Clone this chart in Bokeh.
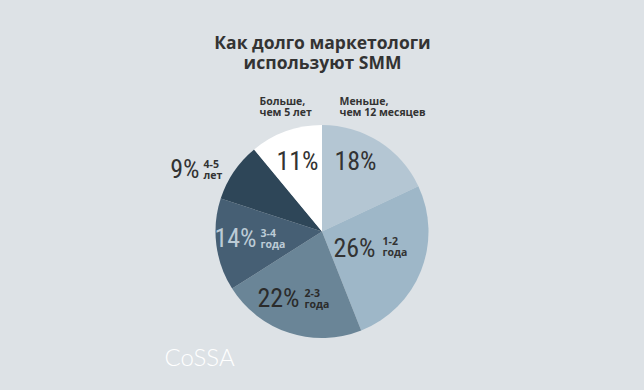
import numpy as np
from bokeh.plotting import figure
from bokeh.models import Range1d
from bokeh.core.properties import value
from bokeh.embed import file_html
from bokeh.resources import INLINE

title_lines = ["Как долго маркетологи", "используют SMM"]
categories = ["Меньше, чем 12 месяцев", "1-2 года", "2-3 года", "3-4 года", "4-5 лет", "Больше, чем 5 лет"]
shares = [18, 26, 22, 14, 9, 11]
colors = ["#b4c6d3", "#9eb7c8", "#6a8597", "#465f74", "#2e4658", "#ffffff"]
pct_colors = ["#333333", "#333333", "#2b2b2b", "#bccbd6", "#333333", "#333333"]
sub_labels = [["Меньше,", "чем 12 месяцев"], ["1-2", "года"], ["2-3", "года"], ["3-4", "года"], ["4-5", "лет"], ["Больше,", "чем 5 лет"]]
sub_colors = ["#333333", "#333333", "#2b2b2b", "#bccbd6", "#333333", "#333333"]

BG = "#dde2e6"
W, H = 628, 374
p = figure(width=W, height=H, output_backend="svg", toolbar_location=None,
           x_range=Range1d(0, W), y_range=Range1d(0, H), min_border=0)
p.axis.visible = False
p.grid.visible = False
p.outline_line_color = None
p.background_fill_color = BG
p.border_fill_color = BG

def X(xr):
    return xr
def Y(yr):
    return H - yr

cx, cy, r = X(321.5), Y(231), 106.5
total = float(sum(shares))
ang = np.array(shares) / total * 2 * np.pi
ends = np.pi / 2 - np.cumsum(ang)
starts = ends + ang
p.wedge(x=[cx] * 6, y=[cy] * 6, radius=r, start_angle=list(ends), end_angle=list(starts),
        fill_color=colors, line_color=None)

# title
for i, t in enumerate(title_lines):
    p.text(x=[X(322)], y=[Y(41 + i * 20)], text=[t], text_align="center", text_baseline="middle",
           text_font=value("Open Sans"), text_font_style="bold", text_font_size="17.5px", text_color="#333333")

# percent labels (position, alignment)
pct_pos = [(355, 160, "center"), (375, 247, "right"), (299, 297, "right"),
           (256, 237, "right"), (199, 168, "right"), (297, 160, "center")]
cond = value("Roboto Condensed, Open Sans Condensed, DejaVu Sans Condensed, Liberation Sans Narrow, Noto Sans Condensed, Roboto")
for (xr, yr, al), s, c in zip(pct_pos, shares, pct_colors):
    p.text(x=[X(xr)], y=[Y(yr)], text=[f"{s}%"], text_align=al, text_baseline="middle",
           text_font=cond, text_font_size="26px", text_color=c)

# sub labels
sub_pos = [(339, 100), (382, 240), (304, 292), (260, 232), (203, 163), (259, 100)]
for (xr, yr), lines, c in zip(sub_pos, sub_labels, sub_colors):
    for j, t in enumerate(lines):
        p.text(x=[X(xr)], y=[Y(yr + j * 11.5)], text=[t], text_align="left", text_baseline="middle",
               text_font=value("Open Sans"), text_font_style="bold", text_font_size="10.5px", text_color=c)

# logo
p.text(x=[X(164)], y=[Y(356)], text=["CoSSA"], text_align="left", text_baseline="middle",
       text_font=value("Lato Light, Lato"), text_font_style="normal", text_font_size="24px", text_color="#ffffff")

html = file_html(p, INLINE)
html = html.replace("<head>", "<head><style>html,body{background:%s;}</style>" % BG, 1)
open("out.html", "w").write(html)
